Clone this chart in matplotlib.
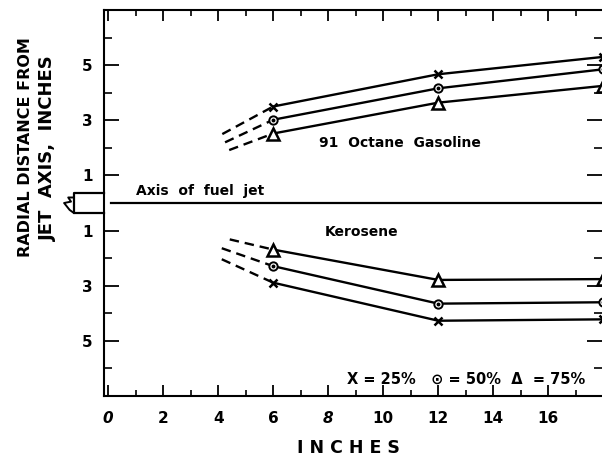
import matplotlib
matplotlib.use("Agg")
import matplotlib.pyplot as plt
from matplotlib.ticker import MultipleLocator

# distance downstream (inches) where the sprays were measured
x_pts = [6, 12, 18]

# 91 octane gasoline, radial distance (inches) for 25/50/75 %
gas_25 = [3.5, 4.67, 5.3]
gas_50 = [3.02, 4.16, 4.85]
gas_75 = [2.52, 3.64, 4.25]
# where the dashed extrapolation starts (x, r)
gas_dash_x = [4.15, 4.25, 4.4]
gas_dash_r = [2.5, 2.2, 1.92]

# kerosene (drawn below the jet axis)
kero_25 = [2.89, 4.27, 4.22]
kero_50 = [2.29, 3.65, 3.6]
kero_75 = [1.69, 2.79, 2.76]
kero_dash_x = [4.13, 4.13, 4.42]
kero_dash_r = [2.04, 1.64, 1.32]

y_ticks = [5, 3, 1, -1, -3, -5]
y_ticklabels = ["5", "3", "1", "1", "3", "5"]
x_ticks = [0, 2, 4, 6, 8, 10, 12, 14, 16]

plt.rcParams['font.family'] = 'DejaVu Sans'
plt.rcParams['font.weight'] = 'bold'

fig = plt.figure(figsize=(6.02, 4.57), dpi=100)
ax = fig.add_axes([104/602, 1 - 396/457, 1 - 104/602, (396 - 10)/457])
ax.set_xlim(-0.15, 17.95)
ax.set_ylim(-7, 7)

lw = 1.7
sets = [
    (gas_25, gas_50, gas_75, gas_dash_x, gas_dash_r, 1),
    (kero_25, kero_50, kero_75, kero_dash_x, kero_dash_r, -1),
]
for s25, s50, s75, dx, dr, sign in sets:
    for i, (vals, mk) in enumerate([(s25, 'x'), (s50, 'o'), (s75, '^')]):
        ys = [sign * v for v in vals]
        ax.plot([dx[i], x_pts[0]], [sign * dr[i], ys[0]], color='black', lw=lw,
                linestyle=(0, (4, 2.5)))
        ax.plot(x_pts, ys, color='black', lw=lw)
        if mk == 'x':
            ax.plot(x_pts, ys, 'x', color='black', ms=6, mew=1.8)
        elif mk == 'o':
            ax.plot(x_pts, ys, 'o', mfc='white', mec='black', ms=6, mew=1.4)
            ax.plot(x_pts, ys, 'o', color='black', ms=1.8)
        else:
            ax.plot(x_pts, ys, '^', mfc='white', mec='black', ms=8, mew=1.8)

# jet axis
ax.plot([0.1, 18], [0, 0], color='black', lw=1.6)
# little nozzle sketch left of the axis
ax.plot([-0.15, -1.25, -1.25, -0.15], [0.36, 0.36, -0.36, -0.36], color='black',
        lw=1.6, clip_on=False)
ax.plot([-1.25, -1.45, -1.35, -1.6, -1.4, -1.25], [0.2, 0.2, 0.05, 0.0, -0.25, -0.36],
        color='black', lw=1.4, clip_on=False)

ax.text(1.0, 0.28, "Axis  of  fuel  jet", fontsize=10, fontweight='bold', va='baseline')
ax.text(10.6, 2.16, "91  Octane  Gasoline", fontsize=10, fontweight='bold',
        ha='center', va='center')
ax.text(9.2, -1.04, "Kerosene", fontsize=10, fontweight='bold', ha='center', va='center')
ax.text(8.7, -6.4, "X = 25%   \u2299 = 50%  \u0394  = 75%", fontsize=10.5,
        fontweight='bold', va='center')

ax.set_xticks(x_ticks)
ax.set_xticklabels([str(t) for t in x_ticks], fontsize=11, fontweight='bold')
for lab in ax.get_xticklabels():
    if lab.get_text() in ("0", "8"):
        lab.set_style('italic')
ax.xaxis.set_minor_locator(MultipleLocator(1))
ax.set_yticks(y_ticks)
ax.set_yticklabels(y_ticklabels, fontsize=11, fontweight='bold')
ax.set_yticks([6, 4, 2, -2, -4, -6], minor=True)

ax.tick_params(axis='x', which='major', direction='in', length=8, width=1.3,
               top=True, pad=11)
ax.tick_params(axis='x', which='minor', direction='in', length=4, width=1.2, top=True)
ax.tick_params(axis='y', which='major', direction='in', length=11, width=1.3,
               right=True, pad=8)
ax.tick_params(axis='y', which='minor', direction='in', length=6, width=1.2, right=True)

for side in ['left', 'bottom', 'top']:
    ax.spines[side].set_linewidth(1.5)
ax.spines['right'].set_visible(False)

fig.text(348/602, 1 - 448/457, "I N C H E S", fontsize=12.5,
         fontweight='bold', ha='center', va='center')
fig.text(26/602, 1 - 147/457, "RADIAL DISTANCE FROM", fontsize=11.5,
         fontweight='bold', rotation=90, ha='center', va='center')
fig.text(48/602, 1 - 148/457, "JET  AXIS,  INCHES", fontsize=13,
         fontweight='bold', rotation=90, ha='center', va='center')

fig.savefig("out.png", dpi=100)
